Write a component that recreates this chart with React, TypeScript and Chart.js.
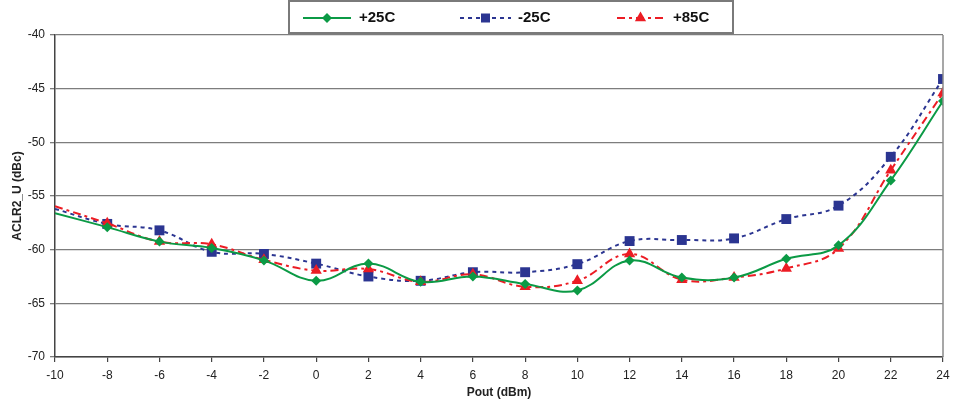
import React, { useEffect, useRef } from 'react';
import { Chart, registerables } from 'chart.js';

Chart.register(...registerables);

const pout = [-10, -8, -6, -4, -2, 0, 2, 4, 6, 8, 10, 12, 14, 16, 18, 20, 22, 24];
const plus25 = [-56.6, -57.9, -59.25, -59.85, -61.0, -62.9, -61.3, -63.0, -62.5, -63.2, -63.8, -61.0, -62.6, -62.6, -60.85, -59.6, -53.55, -46.15];
const minus25 = [-56.2, -57.6, -58.2, -60.2, -60.4, -61.3, -62.5, -62.9, -62.1, -62.1, -61.35, -59.2, -59.1, -58.95, -57.15, -55.9, -51.35, -44.1];
const plus85 = [-55.95, -57.55, -59.25, -59.5, -60.95, -61.95, -61.8, -63.0, -62.3, -63.45, -62.9, -60.4, -62.8, -62.6, -61.75, -59.9, -52.6, -45.4];
const seriesLabels = ['+25C', '-25C', '+85C'];
const xMin = -10, xMax = 24, xStep = 2;
const yMin = -70, yMax = -40, yStep = 5;

const GREEN = '#0b9a45';
const BLUE = '#2b3591';
const RED = '#ec1c24';

const FONT = 'Liberation Sans, Arial, sans-serif';

function drawMarker(ctx: CanvasRenderingContext2D, kind: string, x: number, y: number, color: string) {
  ctx.save();
  ctx.fillStyle = color;
  ctx.setLineDash([]);
  ctx.beginPath();
  if (kind === 'diamond') {
    const r = 5;
    ctx.moveTo(x, y - r); ctx.lineTo(x + r, y); ctx.lineTo(x, y + r); ctx.lineTo(x - r, y); ctx.closePath();
  } else if (kind === 'square') {
    const s = 4.5;
    ctx.rect(x - s, y - s, 2 * s, 2 * s);
  } else {
    const r = 6.5;
    ctx.moveTo(x, y - r); ctx.lineTo(x + r * 0.866, y + r * 0.5); ctx.lineTo(x - r * 0.866, y + r * 0.5); ctx.closePath();
  }
  ctx.fill();
  ctx.restore();
}

const framePlugin = {
  id: 'frame',
  afterDraw(chart: any) {
    const { ctx, chartArea } = chart;
    ctx.save();
    ctx.strokeStyle = '#8a8a8a';
    ctx.lineWidth = 1.5;
    ctx.beginPath();
    ctx.moveTo(chartArea.right, chartArea.top);
    ctx.lineTo(chartArea.right, chartArea.bottom);
    ctx.stroke();

    // legend box
    ctx.strokeStyle = '#7a7a7a';
    ctx.lineWidth = 2;
    ctx.strokeRect(289, 1, 444, 32);

    const items = [
      { label: seriesLabels[0], color: GREEN, dash: [] as number[], kind: 'diamond', x0: 303, x1: 351, tx: 359 },
      { label: seriesLabels[1], color: BLUE, dash: [4, 4], kind: 'square', x0: 460, x1: 511, tx: 518 },
      { label: seriesLabels[2], color: RED, dash: [8, 4, 3, 4], kind: 'triangle', x0: 617, x1: 664, tx: 673 },
    ];
    const ly = 18;
    for (const it of items) {
      ctx.save();
      ctx.strokeStyle = it.color;
      ctx.lineWidth = 2;
      ctx.setLineDash(it.dash);
      ctx.beginPath();
      ctx.moveTo(it.x0, ly);
      ctx.lineTo(it.x1, ly);
      ctx.stroke();
      ctx.restore();
      drawMarker(ctx, it.kind, (it.x0 + it.x1) / 2, ly, it.color);
      ctx.fillStyle = '#111';
      ctx.font = `bold 15px ${FONT}`;
      ctx.textBaseline = 'middle';
      ctx.textAlign = 'left';
      ctx.fillText(it.label, it.tx, ly);
    }
    ctx.restore();
  },
};

export default function App() {
  const ref = useRef<HTMLCanvasElement | null>(null);

  useEffect(() => {
    document.body.style.margin = '0';
    const canvas = ref.current;
    if (!canvas) return;
    const mk = (vals: number[]) => pout.map((x, i) => ({ x, y: vals[i] }));
    const firstHidden = (r: number) => (c: any) => (c.dataIndex === 0 ? 0 : r);

    const chart = new Chart(canvas, {
      type: 'line',
      data: {
        datasets: [
          {
            label: seriesLabels[0],
            data: mk(plus25),
            borderColor: GREEN,
            backgroundColor: GREEN,
            borderWidth: 2,
            pointStyle: 'rectRot',
            pointRadius: firstHidden(5),
            pointBorderWidth: 0,
            tension: 0.4,
            order: 1,
          },
          {
            label: seriesLabels[1],
            data: mk(minus25),
            borderColor: BLUE,
            backgroundColor: BLUE,
            borderWidth: 2,
            borderDash: [4, 4],
            pointStyle: 'rect',
            pointRadius: firstHidden(7),
            pointBorderWidth: 0,
            tension: 0.4,
            order: 3,
          },
          {
            label: seriesLabels[2],
            data: mk(plus85),
            borderColor: RED,
            backgroundColor: RED,
            borderWidth: 2,
            borderDash: [8, 4, 3, 4],
            pointStyle: 'triangle',
            pointRadius: firstHidden(6.5),
            pointBorderWidth: 0,
            tension: 0.4,
            order: 2,
          },
        ],
      },
      options: {
        animation: false,
        responsive: false,
        maintainAspectRatio: false,
        layout: { padding: { top: 35, right: 10, left: 0, bottom: 0 } },
        plugins: { legend: { display: false }, tooltip: { enabled: false } },
        scales: {
          x: {
            type: 'linear',
            min: xMin,
            max: xMax,
            afterFit: (s: any) => { s.height = 47; s.paddingRight = 0; },
            ticks: { stepSize: xStep, color: '#222', font: { family: FONT, size: 12 }, padding: 6, maxRotation: 0 },
            grid: { drawOnChartArea: false, drawTicks: true, tickLength: 5, color: '#444', lineWidth: 1.2 },
            border: { color: '#444', width: 1.5 },
            title: { display: true, text: 'Pout (dBm)', color: '#222', font: { family: FONT, size: 12, weight: 'bold' }, padding: { top: 4, bottom: 4 } },
          },
          y: {
            type: 'linear',
            min: yMin,
            max: yMax,
            afterFit: (s: any) => { s.width = 55; },
            ticks: { stepSize: yStep, color: '#222', font: { family: FONT, size: 12 }, padding: 5 },
            grid: { color: '#7d7d7d', lineWidth: 1.3, tickLength: 5 },
            border: { color: '#444', width: 1.5 },
            title: { display: true, text: 'ACLR2_U (dBc)', color: '#222', font: { family: FONT, size: 12, weight: 'bold' }, padding: { top: 10, bottom: 4 } },
          },
        },
      },
      plugins: [framePlugin],
    } as any);
    return () => chart.destroy();
  }, []);

  return (
    <div style={{ width: 953, height: 404, background: '#fff' }}>
      <canvas ref={ref} width={953} height={404} style={{ display: 'block' }} />
    </div>
  );
}
